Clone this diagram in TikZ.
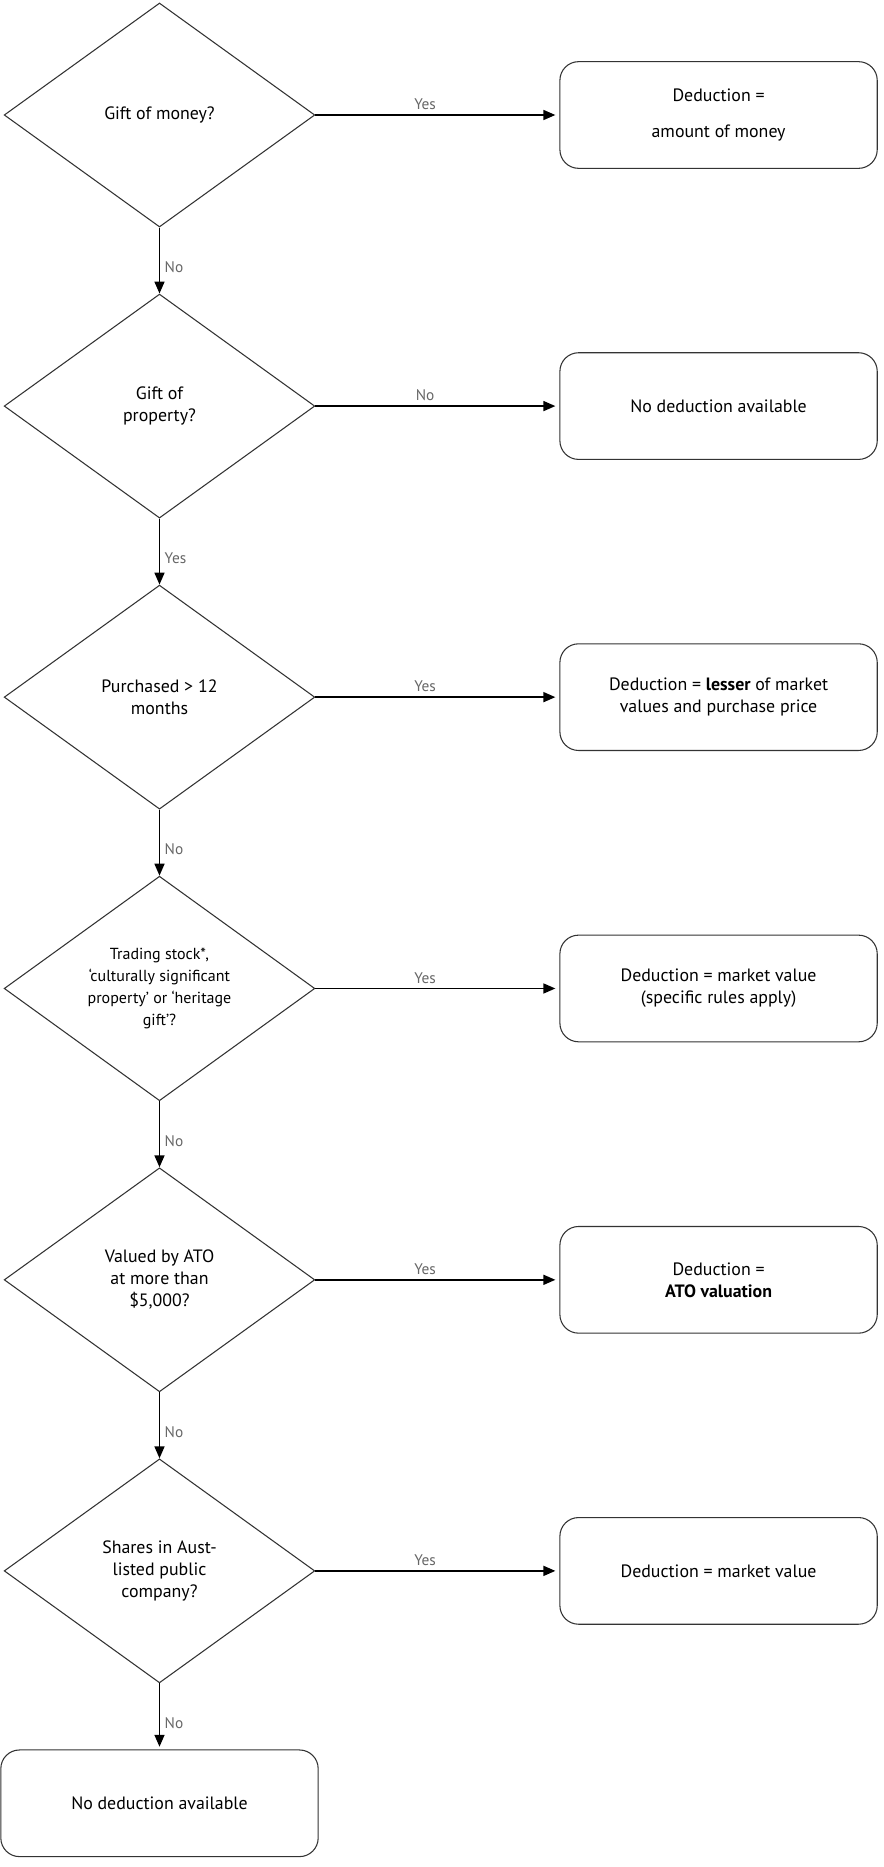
\documentclass[tikz,border=0pt]{standalone}
\usepackage{fontspec}
\setmainfont{PT Sans}
\usetikzlibrary{arrows.meta, positioning, shapes.geometric}

\begin{document}
\begin{tikzpicture}[
  x=0.75pt, y=-0.75pt,
  node distance=49.5pt and 183pt,
  font=\fontsize{13.4}{16.5}\selectfont,
  question/.style={diamond, draw=black!80, line width=0.8pt, minimum width=233pt, minimum height=168pt, inner sep=0pt, align=center},
  outcome/.style={rectangle, draw=black!80, line width=0.8pt, rounded corners=14pt, minimum width=238pt, minimum height=80pt, align=center},
  arrow/.style={line width=1.2pt, -{Triangle[length=9pt,width=7.5pt]}},
  answer/.style={font=\fontsize{11.5}{13}\selectfont, text=black!60}
]

\useasboundingbox (0,0) rectangle (883,1867);

% Questions
\node[question] (q1) at (159.5,115) {Gift of money?};
\node[question, below=of q1] (q2) {Gift of\\property?};
\node[question, below=of q2] (q3) {Purchased > 12\\months};
\node[question, below=of q3, font=\fontsize{12}{16.5}\selectfont] (q4) {Trading stock*,\\‘culturally significant\\property’ or ‘heritage\\gift’?};
\node[question, below=of q4] (q5) {Valued by ATO\\at more than\\\$5,000?};
\node[question, below=of q5] (q6) {Shares in Aust-\\listed public\\company?};

% Outcomes
\node[outcome, right=of q1] (r1) {Deduction =\\[10pt]amount of money};
\node[outcome, right=of q2] (r2) {No deduction available};
\node[outcome, right=of q3] (r3) {Deduction = \textbf{lesser} of market\\values and purchase price};
\node[outcome, right=of q4] (r4) {Deduction = market value\\(specific rules apply)};
\node[outcome, right=of q5] (r5) {Deduction =\\\textbf{ATO valuation}};
\node[outcome, right=of q6] (r6) {Deduction = market value};
\node[outcome, below=of q6] (r7) {No deduction available};

% Connections
\draw[arrow, shorten >=3pt] (q1) -- node[answer, above, pos=0.45] {Yes} (r1);
\draw[arrow, shorten >=3pt] (q2) -- node[answer, above, pos=0.45] {No} (r2);
\draw[arrow, shorten >=3pt] (q3) -- node[answer, above, pos=0.45] {Yes} (r3);
\draw[arrow, shorten >=3pt] (q4) -- node[answer, above, pos=0.45] {Yes} (r4);
\draw[arrow, shorten >=3pt] (q5) -- node[answer, above, pos=0.45] {Yes} (r5);
\draw[arrow, shorten >=3pt] (q6) -- node[answer, above, pos=0.45] {Yes} (r6);

\draw[arrow] (q1) -- node[answer, right, pos=0.6] {No} (q2);
\draw[arrow] (q2) -- node[answer, right, pos=0.6] {Yes} (q3);
\draw[arrow] (q3) -- node[answer, right, pos=0.6] {No} (q4);
\draw[arrow] (q4) -- node[answer, right, pos=0.6] {No} (q5);
\draw[arrow] (q5) -- node[answer, right, pos=0.6] {No} (q6);
\draw[arrow, shorten >=2pt] (q6) -- node[answer, right, pos=0.6] {No} (r7);

\end{tikzpicture}
\end{document}
